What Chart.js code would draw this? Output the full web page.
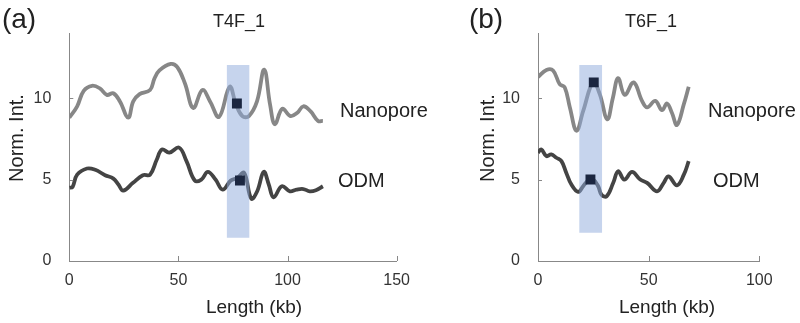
<!DOCTYPE html>
<html>
<head>
<meta charset="utf-8">
<script src="https://cdn.jsdelivr.net/npm/chart.js@4"></script>
<style>
  html,body{margin:0;padding:0;background:#fff;}
  #wrap{position:relative;width:800px;height:323px;overflow:hidden;font-family:"Liberation Sans",Arial,sans-serif;color:#222;}
  canvas{position:absolute;top:0;}
  .t{position:absolute;white-space:nowrap;transform:translate(-50%,-50%);}
  .l{position:absolute;white-space:nowrap;transform:translate(0,-50%);font-size:20px;}
</style>
</head>
<body>
<div id="wrap">
  <canvas id="chartA" width="420" height="323" style="left:0"></canvas>
  <canvas id="chartB" width="380" height="323" style="left:420px"></canvas>

  <div class="t" style="left:19px;top:19px;font-size:28px">(a)</div>
  <div class="t" style="left:486px;top:19px;font-size:28px">(b)</div>
  <div class="t" style="left:239px;top:21px;font-size:18px">T4F_1</div>
  <div class="t" style="left:651px;top:21px;font-size:18px">T6F_1</div>
  <div class="t" style="left:16px;top:138px;font-size:20px;transform:translate(-50%,-50%) rotate(-90deg)">Norm. Int.</div>
  <div class="t" style="left:487px;top:138px;font-size:20px;transform:translate(-50%,-50%) rotate(-90deg)">Norm. Int.</div>
  <div class="t" style="left:254px;top:307px;font-size:19px">Length (kb)</div>
  <div class="t" style="left:667px;top:307px;font-size:19px">Length (kb)</div>
  <div class="l" style="left:340px;top:110px">Nanopore</div>
  <div class="l" style="left:338px;top:180px">ODM</div>
  <div class="l" style="left:708px;top:110px">Nanopore</div>
  <div class="l" style="left:713px;top:180px">ODM</div>
</div>
<script>
// panel (a) T4F_1
const aNanoKb = [0,3.6,6.6,10.4,14,17.2,20.2,23.2,27,29.3,32.2,37,39,41.3,46.5,49.5,53,56.8,61,64.5,68.6,73.5,76.3,79.3,82.3,86,89.3,92,94.2,97.6,101.3,104.5,107.2,110.5,114,116.2];
const aNanoVal = [8.8,9.5,10.45,10.76,10.6,10.2,10.3,9.8,8.8,9.8,10.25,10.5,11.2,11.7,12.1,11.9,10.9,9.4,10.5,9.8,8.85,10.7,9.65,8.9,8.9,9.8,11.75,9.6,8.4,9.35,8.9,9.1,9.5,9.2,8.6,8.6];
const aOdmKb = [0,1.5,3.6,8.1,11.9,16.4,20.2,22.5,24.7,29.2,33.7,37,40,42.5,45.8,50.3,53.7,57.5,60.5,63.5,67,70.3,74,77,80.1,83.4,86.1,89.1,91.4,93.6,97.4,101.1,104.1,107.2,110.2,113,116.2];
const aOdmVal = [4.5,4.55,5.3,5.68,5.6,5.27,5.06,4.7,4.32,4.8,5.27,5.3,6.2,6.85,6.65,6.96,6.13,4.94,5.0,5.47,5.0,4.38,4.94,5.1,5.41,3.83,4.28,5.47,4.7,3.91,4.59,4.28,4.38,4.42,4.28,4.35,4.59];
const aBandKb = [72.1,82.6];
const aBandVal = [1.42,12.03];
const aMarkKb = [76.8,78.2];
const aMarkVal = [9.67,4.94];

// panel (b) T6F_1
const bNanoKb = [0,3.8,6.8,9.8,12.1,14.4,17.4,20.4,24.9,27.9,31.3,33.8,36.2,39.2,43.2,47,49.3,53,56,58.3,60.5,62.8,65.9,68.1];
const bNanoVal = [11.3,11.73,11.7,10.86,10.66,9.43,8.0,9.2,10.97,10.25,8.7,10.0,11.23,10.2,10.97,9.83,9.43,9.83,9.26,9.67,9.1,8.35,9.63,10.7];
const bOdmKb = [0,1.5,3.8,6,8.3,10.6,12.8,15.1,18.1,20.4,22.7,25,27.2,28.7,31,34,36.2,39,42.5,46.2,49.3,53.8,56.8,59,62.8,65.9,68.1];
const bOdmVal = [6.65,6.85,6.44,6.54,6.34,6.13,5.41,4.69,4.24,4.59,4.94,5.0,4.59,4.07,3.97,4.8,5.51,5.0,5.47,5.0,4.8,4.28,4.8,5.2,4.65,5.3,6.13];
const bBandKb = [18.6,29.0];
const bBandVal = [1.74,12.03];
const bMarkKb = [25.2,23.7];
const bMarkVal = [10.97,5.0];

const xTicksA = [0,50,100,150];
const xTicksB = [0,50,100];
const yTicks = [0,5,10];

const zip = (xs, ys) => xs.map((x,i)=>({x:x,y:ys[i]}));

// small inward tick marks like the original
const innerTicks = {
  id:'innerTicks',
  afterDraw(chart){
    const c = chart.ctx, ca = chart.chartArea;
    const xs = chart.scales.x, ys = chart.scales.y;
    c.save(); c.strokeStyle = '#888'; c.lineWidth = 1;
    xs.ticks.forEach(t=>{ const p = Math.round(xs.getPixelForValue(t.value))+0.5; c.beginPath(); c.moveTo(p, ca.bottom); c.lineTo(p, ca.bottom-5); c.stroke(); });
    ys.ticks.forEach(t=>{ const p = Math.round(ys.getPixelForValue(t.value))+0.5; c.beginPath(); c.moveTo(ca.left, p); c.lineTo(ca.left+4, p); c.stroke(); });
    c.restore();
  }
};

function makePanel(id, nanoKb, nanoVal, odmKb, odmVal, bandKb, bandVal, markKb, markVal, xMax, xTicks, yAxisW, padRight){
  const line = (data, color, order) => ({type:'line', data:data, borderColor:color, borderWidth:3.8, pointRadius:0, tension:0.4, fill:false, order:order});
  return new Chart(document.getElementById(id), {
    data:{datasets:[
      {type:'scatter', data:zip(markKb, markVal), pointStyle:'rect', pointRadius:7, backgroundColor:'#1b2640', borderWidth:0, order:0},
      {type:'line', data:zip(bandKb,[bandVal[1],bandVal[1]]), borderWidth:0, pointRadius:0, fill:'+1', backgroundColor:'rgba(142,169,219,0.5)', order:1},
      {type:'line', data:zip(bandKb,[bandVal[0],bandVal[0]]), borderWidth:0, pointRadius:0, fill:false, order:2},
      line(zip(nanoKb, nanoVal), '#878787', 3),
      line(zip(odmKb, odmVal), '#444444', 4)
    ]},
    options:{
      responsive:false, animation:false,
      layout:{padding:{top:33, right:padRight, bottom:0, left:0}},
      plugins:{legend:{display:false}, tooltip:{enabled:false}},
      scales:{
        x:{type:'linear', min:0, max:xMax,
           afterBuildTicks:s=>{ s.ticks = xTicks.map(v=>({value:v})); },
           afterFit:s=>{ s.height = 62; },
           grid:{drawOnChartArea:false, drawTicks:false},
           border:{color:'#888', width:1},
           ticks:{padding:10, color:'#333', font:{family:'"Liberation Sans", Arial', size:16}, maxRotation:0}},
        y:{type:'linear', min:0, max:14,
           afterBuildTicks:s=>{ s.ticks = yTicks.map(v=>({value:v})); },
           afterFit:s=>{ s.width = yAxisW; },
           grid:{drawOnChartArea:false, drawTicks:false},
           border:{color:'#888', width:1},
           ticks:{padding:18, color:'#333', font:{family:'"Liberation Sans", Arial', size:16}}}
      }
    },
    plugins:[innerTicks]
  });
}

makePanel('chartA', aNanoKb, aNanoVal, aOdmKb, aOdmVal, aBandKb, aBandVal, aMarkKb, aMarkVal, 150, xTicksA, 69.3, 18.3);
makePanel('chartB', bNanoKb, bNanoVal, bOdmKb, bOdmVal, bBandKb, bBandVal, bMarkKb, bMarkVal, 100, xTicksB, 118, 40.7);
</script>
</body>
</html>
